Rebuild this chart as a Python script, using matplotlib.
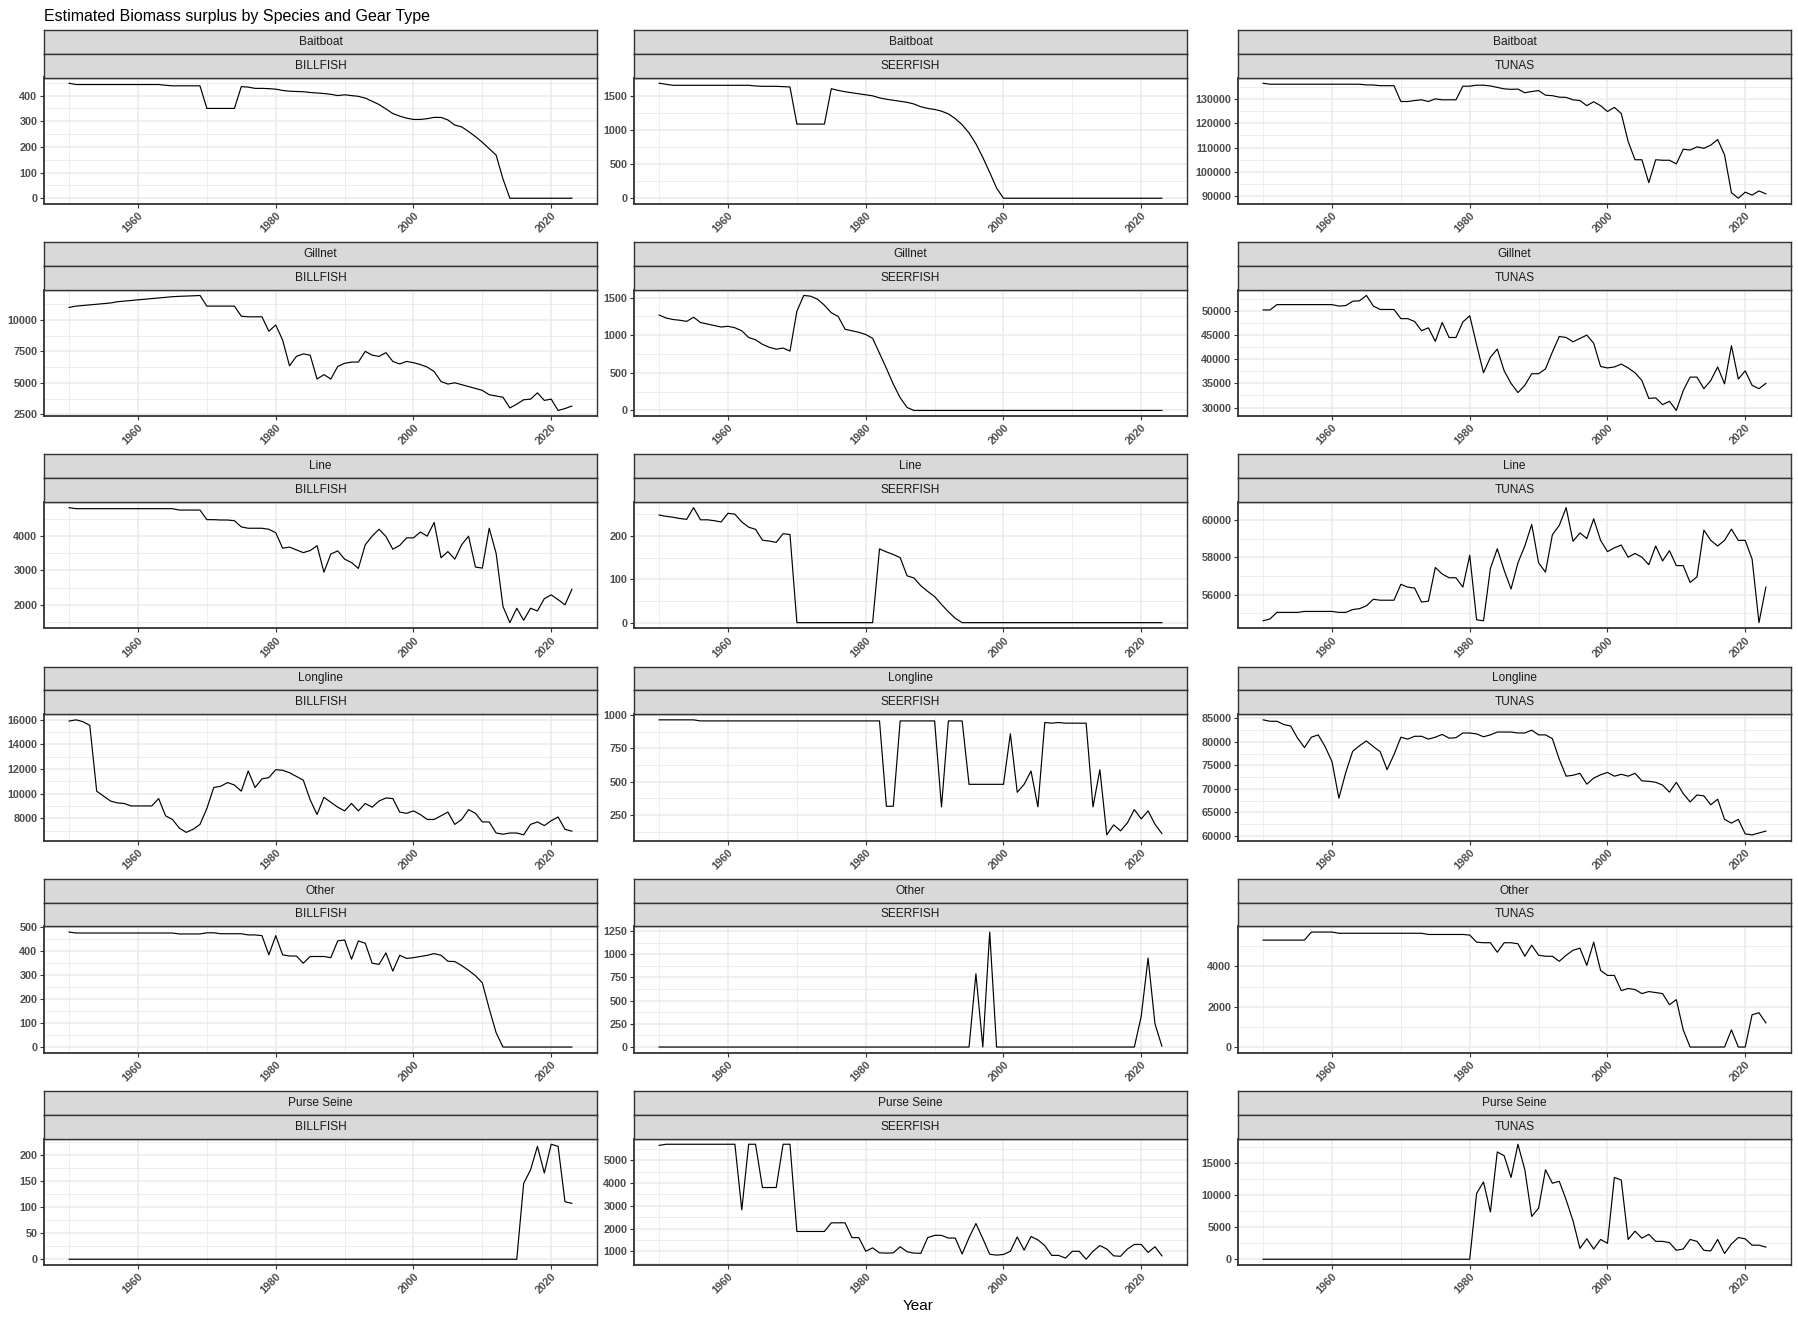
import math
import matplotlib
matplotlib.use('Agg')
import matplotlib.pyplot as plt

plt.rcParams['font.family'] = ['Liberation Sans', 'DejaVu Sans']

years = list(range(1950, 2024))
gears = ['Baitboat', 'Gillnet', 'Line', 'Longline', 'Other', 'Purse Seine']
species = ['BILLFISH', 'SEERFISH', 'TUNAS']
title = 'Estimated Biomass surplus by Species and Gear Type'
xlabel = 'Year'
x_major = [1960, 1980, 2000, 2020]
x_minor = [1950, 1970, 1990, 2010]

baitboat_billfish = [448, 443, 443, 443, 443, 443, 443, 443, 443, 443,
                     443, 443, 443, 443, 440, 438, 438, 438, 438, 438,
                     350, 350, 350, 350, 350, 435, 433, 428, 428, 427,
                     425, 420, 417, 416, 415, 412, 410, 408, 405, 400,
                     403, 400, 397, 390, 378, 365, 348, 330, 320, 312,
                     307, 307, 310, 315, 315, 305, 285, 278, 260, 240,
                     218, 193, 168, 75, 0, 0, 0, 0, 0, 0,
                     0, 0, 0, 0]
baitboat_seerfish = [1690, 1675, 1660, 1660, 1660, 1660, 1660, 1660, 1660, 1660,
                     1660, 1660, 1660, 1660, 1650, 1645, 1645, 1645, 1640, 1635,
                     1090, 1090, 1090, 1090, 1090, 1610, 1585, 1565, 1550, 1535,
                     1520, 1505, 1475, 1455, 1440, 1425, 1410, 1385, 1345, 1320,
                     1305, 1280, 1240, 1170, 1080, 960, 800, 600, 380, 150,
                     0, 0, 0, 0, 0, 0, 0, 0, 0, 0,
                     0, 0, 0, 0, 0, 0, 0, 0, 0, 0,
                     0, 0, 0, 0]
baitboat_tunas = [136400, 136000, 136000, 136000, 136000, 136000, 136000, 136000, 136000, 136000,
                  136000, 136000, 136000, 136000, 136000, 135700, 135700, 135400, 135400, 135400,
                  128900, 128900, 129300, 129600, 128900, 130000, 129600, 129600, 129600, 135200,
                  135200, 135600, 135600, 135300, 134700, 134100, 133900, 134000, 132500, 133000,
                  133400, 131500, 131300, 130700, 130600, 129600, 129300, 127200, 128800, 127200,
                  124800, 126500, 124000, 112500, 105000, 105000, 95600, 105000, 104800, 104800,
                  103300, 109300, 109000, 110300, 109700, 111000, 113300, 107000, 91500, 89200,
                  91700, 90500, 92200, 91000]
gillnet_billfish = [11000, 11100, 11150, 11200, 11250, 11300, 11350, 11450, 11500, 11550,
                    11600, 11650, 11700, 11750, 11800, 11850, 11880, 11900, 11920, 11950,
                    11100, 11100, 11100, 11100, 11100, 10300, 10250, 10250, 10250, 9100,
                    9600, 8400, 6350, 7100, 7300, 7200, 5300, 5650, 5300, 6300,
                    6550, 6650, 6650, 7500, 7200, 7100, 7400, 6700, 6500, 6700,
                    6600, 6450, 6250, 5900, 5100, 4900, 5000, 4850, 4700, 4550,
                    4400, 4050, 3950, 3850, 3000, 3300, 3650, 3700, 4200, 3600,
                    3700, 2800, 2950, 3150]
gillnet_seerfish = [1270, 1230, 1210, 1200, 1185, 1240, 1170, 1150, 1130, 1110,
                    1120, 1100, 1060, 970, 940, 880, 840, 815, 830, 790,
                    1320, 1530, 1520, 1480, 1400, 1300, 1250, 1080, 1060, 1040,
                    1010, 960, 760, 560, 350, 170, 40, 0, 0, 0,
                    0, 0, 0, 0, 0, 0, 0, 0, 0, 0,
                    0, 0, 0, 0, 0, 0, 0, 0, 0, 0,
                    0, 0, 0, 0, 0, 0, 0, 0, 0, 0,
                    0, 0, 0, 0]
gillnet_tunas = [50200, 50200, 51300, 51300, 51300, 51300, 51300, 51300, 51300, 51300,
                 51300, 51000, 51100, 52000, 52100, 53200, 51000, 50300, 50300, 50300,
                 48400, 48400, 47800, 45900, 46500, 43700, 47600, 44500, 44500, 47700,
                 49000, 43000, 37200, 40400, 42100, 37600, 35000, 33100, 34600, 37000,
                 37000, 38000, 41500, 44700, 44500, 43600, 44300, 45000, 43300, 38500,
                 38200, 38400, 39000, 38200, 37200, 35600, 31900, 32000, 30600, 31300,
                 29400, 33500, 36300, 36300, 33900, 35600, 38400, 34900, 42800, 35900,
                 37600, 34600, 33900, 35000]
line_billfish = [4830, 4800, 4800, 4800, 4800, 4800, 4800, 4800, 4800, 4800,
                 4800, 4800, 4800, 4800, 4800, 4800, 4760, 4760, 4760, 4760,
                 4480, 4480, 4470, 4470, 4450, 4270, 4230, 4230, 4230, 4200,
                 4100, 3650, 3680, 3600, 3520, 3580, 3720, 2950, 3480, 3570,
                 3330, 3230, 3060, 3750, 4000, 4200, 3990, 3620, 3730, 3950,
                 3950, 4120, 4000, 4400, 3370, 3550, 3330, 3750, 4000, 3100,
                 3070, 4230, 3500, 1950, 1480, 1900, 1550, 1900, 1820, 2180,
                 2290, 2150, 2000, 2450]
line_seerfish = [248, 245, 243, 240, 238, 265, 237, 237, 235, 232,
                 252, 250, 232, 220, 215, 190, 188, 185, 205, 203,
                 0, 0, 0, 0, 0, 0, 0, 0, 0, 0,
                 0, 0, 170, 163, 157, 150, 108, 103, 85, 72,
                 60, 42, 25, 10, 0, 0, 0, 0, 0, 0,
                 0, 0, 0, 0, 0, 0, 0, 0, 0, 0,
                 0, 0, 0, 0, 0, 0, 0, 0, 0, 0,
                 0, 0, 0, 0]
line_tunas = [54600, 54700, 55050, 55050, 55050, 55050, 55100, 55100, 55100, 55100,
              55100, 55050, 55050, 55200, 55250, 55400, 55750, 55700, 55700, 55700,
              56550, 56400, 56350, 55600, 55650, 57450, 57100, 56900, 56900, 56400,
              58100, 54650, 54600, 57400, 58450, 57300, 56300, 57700, 58600, 59750,
              57700, 57200, 59200, 59700, 60650, 58850, 59300, 59000, 60050, 58900,
              58300, 58500, 58650, 58000, 58200, 58000, 57600, 58600, 57800, 58350,
              57550, 57550, 56650, 56950, 59450, 58900, 58600, 58900, 59500, 58900,
              58900, 57900, 54500, 56400]
longline_billfish = [15900, 16000, 15850, 15550, 10200, 9800, 9400, 9250, 9200, 9000,
                     9000, 9000, 9000, 9600, 8200, 7900, 7200, 6850, 7100, 7500,
                     8800, 10500, 10600, 10900, 10700, 10200, 11850, 10500, 11200, 11300,
                     11950, 11900, 11700, 11400, 11100, 9500, 8300, 9700, 9300, 8900,
                     8600, 9200, 8600, 9200, 8900, 9400, 9650, 9600, 8500, 8400,
                     8600, 8300, 7900, 7900, 8200, 8500, 7500, 7900, 8700, 8400,
                     7700, 7700, 6800, 6700, 6800, 6800, 6650, 7500, 7700, 7400,
                     7800, 8100, 7100, 6950]
longline_seerfish = [965, 965, 965, 965, 965, 965, 957, 957, 957, 957,
                     957, 957, 957, 957, 957, 957, 957, 957, 957, 957,
                     957, 957, 957, 957, 957, 957, 957, 957, 957, 957,
                     957, 957, 957, 315, 315, 957, 957, 957, 957, 957,
                     957, 310, 957, 957, 957, 480, 480, 480, 480, 480,
                     480, 860, 420, 480, 580, 310, 945, 940, 945, 940,
                     940, 940, 940, 310, 590, 100, 175, 130, 190, 290,
                     220, 280, 180, 110]
longline_tunas = [84700, 84400, 84400, 83700, 83400, 80800, 78800, 81000, 81500, 79000,
                  75800, 68000, 73500, 78000, 79200, 80200, 79000, 77900, 74100, 77300,
                  81000, 80600, 81200, 81200, 80600, 81000, 81600, 80800, 80900, 81900,
                  81900, 81700, 81100, 81500, 82100, 82100, 82100, 81900, 81900, 82500,
                  81500, 81500, 80700, 76300, 72700, 72900, 73300, 71000, 72300, 73000,
                  73500, 72700, 73100, 72700, 73300, 71700, 71600, 71400, 70800, 69300,
                  71400, 69000, 67200, 68700, 68500, 66600, 67800, 63500, 62700, 63500,
                  60400, 60200, 60600, 61000]
other_billfish = [480, 476, 476, 476, 476, 476, 476, 476, 476, 476,
                  476, 476, 476, 476, 476, 476, 472, 472, 472, 472,
                  477, 477, 473, 473, 473, 473, 468, 468, 465, 385,
                  465, 385, 380, 380, 350, 378, 378, 378, 373, 443,
                  447, 367, 443, 433, 350, 345, 393, 317, 383, 370,
                  373, 378, 383, 390, 383, 358, 357, 340, 320, 298,
                  268, 160, 60, 0, 0, 0, 0, 0, 0, 0,
                  0, 0, 0, 0]
other_seerfish = [0, 0, 0, 0, 0, 0, 0, 0, 0, 0,
                  0, 0, 0, 0, 0, 0, 0, 0, 0, 0,
                  0, 0, 0, 0, 0, 0, 0, 0, 0, 0,
                  0, 0, 0, 0, 0, 0, 0, 0, 0, 0,
                  0, 0, 0, 0, 0, 0, 790, 0, 1240, 0,
                  0, 0, 0, 0, 0, 0, 0, 0, 0, 0,
                  0, 0, 0, 0, 0, 0, 0, 0, 0, 0,
                  330, 960, 250, 10]
other_tunas = [5300, 5300, 5300, 5300, 5300, 5300, 5300, 5700, 5700, 5700,
               5700, 5640, 5640, 5640, 5640, 5640, 5640, 5640, 5640, 5640,
               5640, 5640, 5640, 5640, 5580, 5580, 5580, 5580, 5580, 5580,
               5550, 5200, 5170, 5170, 4700, 5170, 5170, 5120, 4500, 5050,
               4550, 4500, 4500, 4250, 4550, 4800, 4900, 4050, 5200, 3800,
               3550, 3550, 2800, 2900, 2850, 2650, 2750, 2700, 2650, 2100,
               2350, 850, 0, 0, 0, 0, 0, 0, 850, 0,
               0, 1600, 1700, 1200]
purseseine_billfish = [0, 0, 0, 0, 0, 0, 0, 0, 0, 0,
                       0, 0, 0, 0, 0, 0, 0, 0, 0, 0,
                       0, 0, 0, 0, 0, 0, 0, 0, 0, 0,
                       0, 0, 0, 0, 0, 0, 0, 0, 0, 0,
                       0, 0, 0, 0, 0, 0, 0, 0, 0, 0,
                       0, 0, 0, 0, 0, 0, 0, 0, 0, 0,
                       0, 0, 0, 0, 0, 0, 145, 171, 216, 165,
                       220, 216, 110, 107]
purseseine_seerfish = [5650, 5700, 5700, 5700, 5700, 5700, 5700, 5700, 5700, 5700,
                       5700, 5700, 2820, 5700, 5700, 3800, 3800, 3800, 5700, 5700,
                       1870, 1870, 1870, 1870, 1870, 2250, 2250, 2250, 1600, 1600,
                       1000, 1150, 930, 920, 930, 1200, 980, 920, 910, 1600,
                       1700, 1700, 1580, 1580, 880, 1600, 2220, 1560, 870, 830,
                       860, 1000, 1630, 1050, 1650, 1500, 1250, 820, 820, 700,
                       1000, 1000, 650, 1000, 1250, 1100, 800, 780, 1100, 1300,
                       1300, 950, 1200, 800]
purseseine_tunas = [0, 0, 0, 0, 0, 0, 0, 0, 0, 0,
                    0, 0, 0, 0, 0, 0, 0, 0, 0, 0,
                    0, 0, 0, 0, 0, 0, 0, 0, 0, 0,
                    0, 10300, 12100, 7400, 16800, 16200, 12800, 18000, 14000, 6700,
                    8000, 14000, 11900, 12200, 9300, 6000, 1700, 3200, 1600, 3100,
                    2500, 12800, 12400, 3100, 4400, 3300, 3900, 2800, 2800, 2600,
                    1400, 1600, 3100, 2800, 1400, 1300, 3100, 900, 2400, 3400,
                    3200, 2200, 2200, 1900]

series = {
    ('Baitboat', 'BILLFISH'): baitboat_billfish,
    ('Baitboat', 'SEERFISH'): baitboat_seerfish,
    ('Baitboat', 'TUNAS'): baitboat_tunas,
    ('Gillnet', 'BILLFISH'): gillnet_billfish,
    ('Gillnet', 'SEERFISH'): gillnet_seerfish,
    ('Gillnet', 'TUNAS'): gillnet_tunas,
    ('Line', 'BILLFISH'): line_billfish,
    ('Line', 'SEERFISH'): line_seerfish,
    ('Line', 'TUNAS'): line_tunas,
    ('Longline', 'BILLFISH'): longline_billfish,
    ('Longline', 'SEERFISH'): longline_seerfish,
    ('Longline', 'TUNAS'): longline_tunas,
    ('Other', 'BILLFISH'): other_billfish,
    ('Other', 'SEERFISH'): other_seerfish,
    ('Other', 'TUNAS'): other_tunas,
    ('Purse Seine', 'BILLFISH'): purseseine_billfish,
    ('Purse Seine', 'SEERFISH'): purseseine_seerfish,
    ('Purse Seine', 'TUNAS'): purseseine_tunas,
}

# y tick steps per panel (ggplot pretty breaks)
ystep = {
    ('Baitboat', 'BILLFISH'): 100, ('Baitboat', 'SEERFISH'): 500, ('Baitboat', 'TUNAS'): 10000,
    ('Gillnet', 'BILLFISH'): 2500, ('Gillnet', 'SEERFISH'): 500, ('Gillnet', 'TUNAS'): 5000,
    ('Line', 'BILLFISH'): 1000, ('Line', 'SEERFISH'): 100, ('Line', 'TUNAS'): 2000,
    ('Longline', 'BILLFISH'): 2000, ('Longline', 'SEERFISH'): 250, ('Longline', 'TUNAS'): 5000,
    ('Other', 'BILLFISH'): 100, ('Other', 'SEERFISH'): 250, ('Other', 'TUNAS'): 2000,
    ('Purse Seine', 'BILLFISH'): 50, ('Purse Seine', 'SEERFISH'): 1000, ('Purse Seine', 'TUNAS'): 5000,
}

W, H = 1799, 1320
fig = plt.figure(figsize=(W / 100, H / 100), dpi=100)
fig.patch.set_facecolor('white')

col_left = [44, 634, 1238]
col_w = 553
row_pitch = 212.2
strip_top0 = 30.0
strip_h = 23.75
panel_top0 = 77.5
panel_h = 126.5

grid_col = '#EBEBEB'
border_col = '#333333'
tick_col = '#4D4D4D'

for i, g in enumerate(gears):
    for j, s in enumerate(species):
        left = col_left[j]
        top = panel_top0 + i * row_pitch
        ax = fig.add_axes([left / W, 1 - (top + panel_h) / H, col_w / W, panel_h / H])
        y = series[(g, s)]
        ax.plot(years, y, color='black', lw=0.85, zorder=3)
        ax.set_xlim(1946.35, 2026.65)
        lo, hi = min(y), max(y)
        r = (hi - lo) or 1
        ylo, yhi = lo - 0.05 * r, hi + 0.05 * r
        ax.set_ylim(ylo, yhi)
        st = ystep[(g, s)]
        k0 = math.ceil(ylo / st)
        k1 = math.floor(yhi / st)
        majors = [k * st for k in range(k0, k1 + 1)]
        minors = [m + st / 2 for m in [majors[0] - st] + majors]
        minors = [m for m in minors if ylo <= m <= yhi]
        ax.set_yticks(majors, labels=[str(int(m)) for m in majors])
        ax.set_yticks(minors, minor=True)
        ax.set_xticks(x_major, labels=[str(v) for v in x_major])
        ax.set_xticks(x_minor, minor=True)
        ax.grid(which='major', color=grid_col, lw=1.1, zorder=0)
        ax.grid(which='minor', color=grid_col, lw=0.6, zorder=0)
        ax.set_axisbelow(True)
        ax.tick_params(which='major', length=2.75, width=0.8, color=border_col,
                       labelsize=7.8, labelcolor=tick_col, pad=2)
        ax.tick_params(which='minor', length=0)
        for lab in ax.get_yticklabels():
            lab.set_fontweight('bold')
        for lab in ax.get_xticklabels():
            lab.set_fontweight('bold')
            lab.set_rotation(45)
            lab.set_ha('right')
            lab.set_va('top')
            lab.set_rotation_mode('anchor')
        for sp in ax.spines.values():
            sp.set_color(border_col)
            sp.set_linewidth(1.0)
        ax.spines['left'].set_linewidth(1.3)
        ax.spines['bottom'].set_linewidth(1.3)

        for k, txt in enumerate([g, s]):
            stop = strip_top0 + i * row_pitch + k * strip_h
            sax = fig.add_axes([left / W, 1 - (stop + strip_h) / H, col_w / W, strip_h / H])
            sax.set_facecolor('#D9D9D9')
            sax.set_xticks([])
            sax.set_yticks([])
            for sp in sax.spines.values():
                sp.set_color(border_col)
                sp.set_linewidth(1.0)
            sax.text(0.5, 0.5, txt, ha='center', va='center', fontsize=8.6,
                     color='#1A1A1A', transform=sax.transAxes)

fig.text(44 / W, 1 - 16 / H, title, ha='left', va='center', fontsize=11.5, color='black')
fig.text(918 / W, 1 - 1306 / H, xlabel, ha='center', va='center', fontsize=11, color='black')

fig.savefig('out.png', dpi=100)
